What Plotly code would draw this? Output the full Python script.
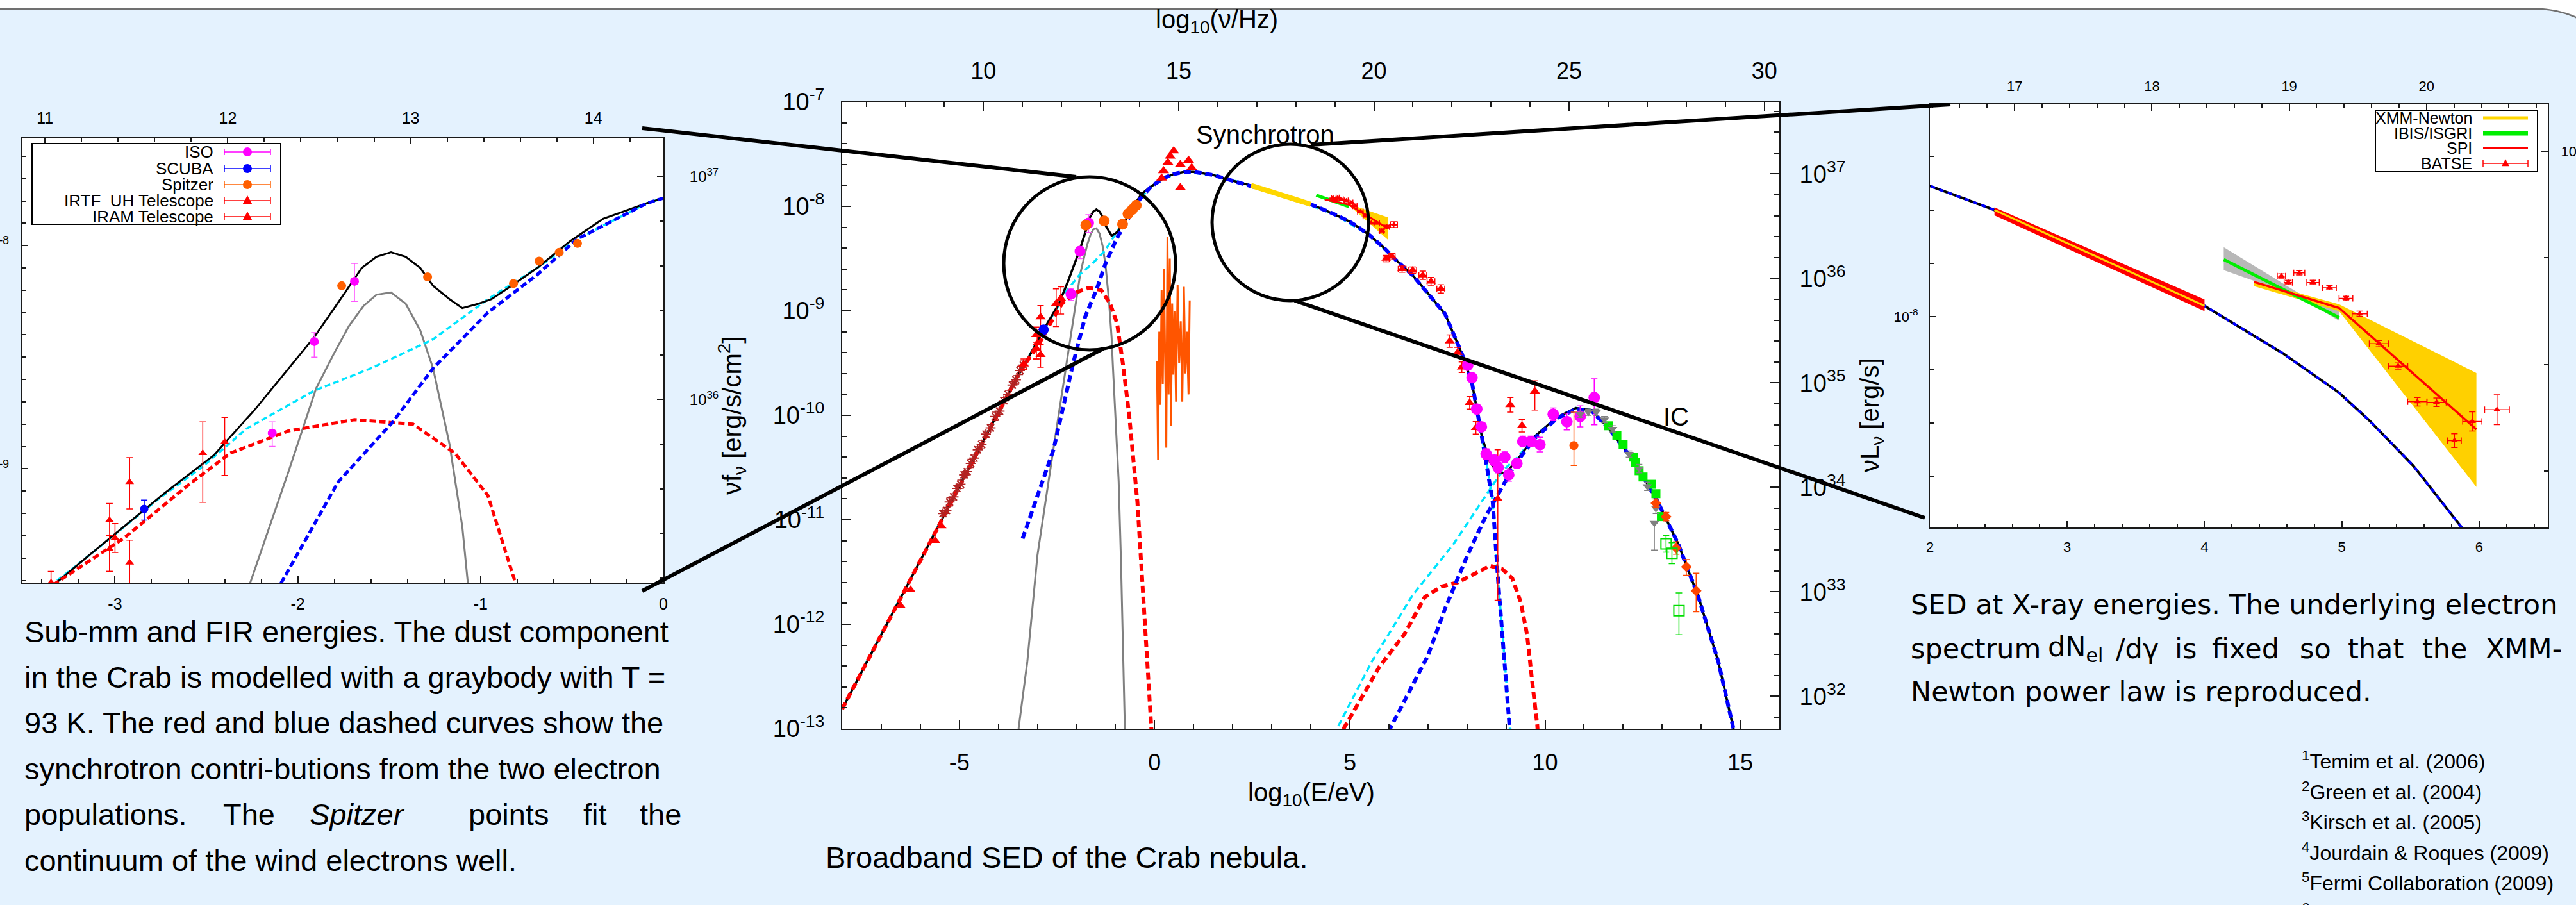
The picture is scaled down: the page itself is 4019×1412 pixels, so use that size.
import numpy as np
import plotly.graph_objects as go

W, H = 4019, 1412
def px(x): return x / W
def py(y): return 1 - y / H

E2NU = 14.383   # log10(nu/Hz) - log10(E/eV)
LUM = 44.69     # log10(nu L_nu) - log10(nu f_nu)

# ---------------- model curves: log10(E/eV) , log10(nu f_nu) ----------------
tot_E = [-8.0,-7.0,-6.0,-5.0,-4.0,-3.5,-3.32,-3.16,-2.73,-2.46,-2.23,-2.05,-1.91,-1.75,-1.65,-1.57,-1.49,-1.41,-1.33,-1.26,
         -1.17,-1.10,-1.01,-0.94,-0.83,-0.69,-0.51,-0.33,-0.09,0.23,0.50,0.75,1.00,1.50,2.00,2.47,3.00,3.50,4.00,4.57,
         4.98,5.20,5.52,5.87,6.20,6.61,7.00,7.44,7.87,8.13,8.38,8.59,8.80,9.00,9.30,9.74,10.30,10.79,11.20,11.62,
         12.30,12.89,13.41,13.93,14.44,14.82,15.20]
tot_F = [-12.81,-12.10,-11.38,-10.67,-9.97,-9.62,-9.51,-9.40,-9.11,-8.94,-8.73,-8.55,-8.41,-8.22,-8.10,-8.05,-8.03,-8.05,-8.10,-8.18,
         -8.24,-8.28,-8.26,-8.24,-8.18,-8.10,-7.98,-7.88,-7.81,-7.73,-7.69,-7.67,-7.67,-7.70,-7.755,-7.80,-7.865,-7.925,-7.98,-8.069,
         -8.143,-8.195,-8.28,-8.395,-8.52,-8.66,-8.83,-9.03,-9.41,-9.69,-10.20,-10.45,-10.55,-10.55,-10.42,-10.20,-10.02,-9.93,-9.95,-10.12,
         -10.45,-10.83,-11.23,-11.74,-12.36,-12.99,-13.5]

synw_E = [-3.38,-2.59,-2.09,-1.78,-1.48,-1.26,-0.96,-0.69,-0.47,-0.09,0.23,0.50,0.75,1.00,1.50,2.00,2.47,3.00,3.50,4.00,
          4.57,4.98,5.20,5.52,5.87,6.20,6.61,7.00,7.44,7.87,8.13,8.38,8.50,8.66,8.80,8.97,9.11,9.20]
synw_F = [-11.18,-10.33,-9.51,-9.06,-8.79,-8.55,-8.30,-8.13,-7.97,-7.81,-7.73,-7.69,-7.67,-7.67,-7.70,-7.755,-7.80,-7.865,-7.925,-7.98,
          -8.069,-8.143,-8.195,-8.28,-8.395,-8.52,-8.66,-8.83,-9.03,-9.41,-9.69,-10.20,-10.45,-10.83,-11.59,-12.36,-13.0,-13.5]

synr_E = [-8.0,-7.0,-6.0,-5.0,-4.0,-3.5,-3.32,-2.95,-2.61,-2.37,-2.05,-1.69,-1.37,-1.14,-0.96,-0.81,-0.65,-0.44,-0.23,-0.08,0.0]
synr_F = [-12.81,-12.10,-11.38,-10.67,-9.97,-9.62,-9.51,-9.31,-9.08,-8.93,-8.83,-8.78,-8.80,-8.93,-9.12,-9.51,-10.0,-10.83,-12.1,-12.97,-13.5]

syns_E = [-8.0,-5.0,-3.5,-3.16,-2.77,-2.52,-2.28,-1.91,-1.60,-1.26,-0.96,-0.69,-0.47,-0.09,0.23,0.75,1.5,2.47,3.5,4.57,
          5.52,6.61,7.44,7.87,8.13,8.38,8.50,8.66,8.80,8.97,9.11,9.20]
syns_F = [-12.81,-10.67,-9.62,-9.40,-9.14,-8.99,-8.82,-8.65,-8.55,-8.42,-8.24,-8.10,-7.97,-7.81,-7.73,-7.67,-7.70,-7.80,-7.925,-8.069,
          -8.28,-8.66,-9.03,-9.41,-9.69,-10.20,-10.45,-10.83,-11.59,-12.36,-13.0,-13.5]

ics_E = [4.00,4.67,5.56,6.61,7.66,8.38,8.80,9.00,9.30,9.74,10.30,10.79,11.20,11.62,12.30,12.89,13.41,13.93,14.44,14.82,15.20]
ics_F = [-13.5,-13.0,-12.36,-11.72,-11.23,-10.83,-10.59,-10.50,-10.40,-10.20,-10.02,-9.93,-9.95,-10.12,-10.45,-10.83,-11.23,-11.74,-12.36,-12.99,-13.5]

icw_E = [5.40,6.03,7.00,7.44,8.00,8.49,9.23,9.74,10.30,10.79,11.20,11.62,12.30,12.89,13.41,13.93,14.44,14.82,15.20]
icw_F = [-13.5,-13.0,-12.3,-11.85,-11.35,-10.96,-10.47,-10.22,-10.03,-9.94,-9.96,-10.12,-10.45,-10.83,-11.23,-11.74,-12.36,-12.99,-13.5]

icr_E = [4.50,4.84,4.98,5.77,6.39,6.92,7.34,7.76,8.18,8.59,8.90,9.16,9.38,9.54,9.69,9.80,9.88]
icr_F = [-13.4,-13.0,-12.91,-12.40,-12.10,-11.74,-11.64,-11.60,-11.52,-11.44,-11.47,-11.56,-11.79,-12.10,-12.61,-12.96,-13.4]

dust_E = [-3.55,-3.48,-3.26,-3.00,-2.59,-2.26,-2.05,-1.90,-1.80,-1.72,-1.64,-1.57,-1.49,-1.41,-1.33,-1.26,-1.17,-1.10,-1.07,-1.00,
          -0.92,-0.86,-0.80,-0.76,-0.73]
dust_F = [-13.5,-12.99,-12.36,-11.34,-10.32,-9.51,-9.01,-8.64,-8.48,-8.36,-8.27,-8.22,-8.21,-8.26,-8.38,-8.55,-8.89,-9.26,-9.51,-10.0,
          -10.63,-11.4,-12.3,-13.0,-13.5]

# ---------------- data points ----------------
iso_E = [-2.14,-1.91,-1.69]; iso_F = [-8.84,-8.43,-8.16]; iso_up = [0.05,0.04,0.08]; iso_dn = [0.06,0.07,0.09]
scuba_E = [-2.84]; scuba_F = [-9.18]; scuba_up = [0.04]; scuba_dn = [0.05]
spitzer_E = [-1.76,-1.29,-0.82,-0.68,-0.57,-0.47]; spitzer_F = [-8.18,-8.14,-8.17,-8.07,-8.03,-7.99]
iram_E = [-3.35,-3.03,-3.03,-3.00]; iram_F = [-9.51,-9.23,-9.36,-9.31]
iram_up = [0.05,0.075,0.06,0.065]; iram_dn = [0.05,0.23,0.10,0.065]
irtf_E = [-2.92,-2.92,-2.52,-2.40]; irtf_F = [-9.06,-9.42,-8.93,-8.88]
irtf_up = [0.11,0.10,0.14,0.11]; irtf_dn = [0.12,0.12,0.22,0.15]

radio_E = [-5.42,-5.33,-5.25,-5.15,-5.06,-4.97,-4.88,-4.80,-4.71,-4.62,-4.53,-4.43,-4.32,-4.20,-4.08,-3.97,-3.86,-3.75,-3.64,-3.55,-3.45,-3.36]
radio_F = [-10.94,-10.91,-10.83,-10.78,-10.70,-10.66,-10.57,-10.54,-10.46,-10.41,-10.33,-10.28,-10.18,-10.12,-10.01,-9.96,-9.86,-9.80,-9.71,-9.66,-9.57,-9.52]
radio_err = [0.03,0.03,0.04,0.03,0.03,0.04,0.03,0.03,0.04,0.03,0.03,0.04,0.03,0.03,0.04,0.03,0.03,0.04,0.03,0.04,0.04,0.04]
rtri_E = [-6.51,-6.25,-5.62,-5.46]; rtri_F = [-11.82,-11.67,-11.20,-11.06]
opt_E = [0.18,0.23,0.34,0.40,0.49,0.66,0.66,0.87,0.95]; opt_F = [-7.73,-7.66,-7.58,-7.52,-7.47,-7.60,-7.82,-7.56,-7.63]
uv_E = [0.06,0.09,0.12,0.15,0.18,0.21,0.24,0.27,0.30,0.33,0.36,0.39,0.42,0.45,0.48,0.51,0.55,0.59,0.63,0.67,0.71,0.75,0.79,0.83,0.87,0.90]
uv_F = [-9.48,-10.43,-9.20,-9.90,-8.80,-9.70,-8.60,-9.40,-10.31,-8.29,-9.80,-8.50,-10.10,-8.93,-9.61,-9.00,-9.87,-8.75,-9.50,-9.10,-9.87,-8.77,-9.60,-9.20,-9.80,-8.90]

xmm_E = [2.47,4.00]; xmm_F = [-7.80,-7.98]; xmm_hi = [-7.795,-7.968]; xmm_lo = [-7.810,-7.990]
ibis_E = [4.14,4.98]; ibis_F = [-7.893,-8.002]
ibisb_E = [4.14,4.68,4.98]; ibisb_hi = [-7.870,-7.955,-7.990]; ibisb_lo = [-7.913,-7.962,-8.008]
spi_E = [4.36,4.98,5.98]; spi_F = [-7.935,-7.984,-8.212]; spi_hi = [-7.933,-7.977,-8.106]; spi_lo = [-7.943,-7.990,-8.320]
batse_E = [4.56,4.61,4.69,4.79,4.91,5.03,5.13,5.27,5.41,5.55,5.69,5.82,5.95,6.13]
batse_F = [-7.924,-7.936,-7.918,-7.936,-7.946,-7.966,-7.995,-8.051,-8.093,-8.160,-8.161,-8.233,-8.197,-8.175]
batse_xe = [0.03,0.03,0.04,0.045,0.05,0.05,0.055,0.07,0.07,0.07,0.07,0.05,0.07,0.09]
batse_ye = [0.004,0.004,0.004,0.004,0.004,0.004,0.005,0.006,0.006,0.008,0.008,0.013,0.018,0.028]

comptel_E = [5.93,6.08,6.34,6.61,6.87,7.08,7.33]; comptel_F = [-8.50,-8.48,-8.60,-8.61,-8.66,-8.72,-8.79]
comptel_ye = [0.03,0.03,0.03,0.03,0.04,0.04,0.04]; comptel_xe = [0.08,0.08,0.1,0.1,0.1,0.1,0.1]
egret_E = [7.56,7.76,7.87,8.07,8.23,8.79,9.11,9.41,9.74]
egret_F = [-9.29,-9.40,-9.54,-9.88,-10.12,-10.80,-9.90,-10.10,-9.77]
egret_up = [0.06,0.05,0.05,0.06,0.06,0.47,0.07,0.06,0.10]; egret_dn = [0.06,0.05,0.05,0.06,0.06,0.97,0.07,0.06,0.18]
fermi_E = [8.02,8.13,8.25,8.37,8.49,8.70,8.80,8.97,9.07,9.28,9.43,9.64,9.87,10.21,10.56,10.90,11.26]
fermi_F = [-9.52,-9.64,-9.94,-10.11,-10.37,-10.43,-10.50,-10.40,-10.57,-10.46,-10.25,-10.25,-10.28,-9.99,-10.06,-10.01,-9.83]
fermi_up = [0.03,0.03,0.04,0.04,0.05,0.05,0.05,0.05,0.06,0.05,0.05,0.05,0.07,0.06,0.08,0.10,0.18]
fermi_dn = [0.03,0.03,0.04,0.04,0.05,0.05,0.05,0.05,0.06,0.05,0.05,0.05,0.07,0.06,0.08,0.10,0.26]
magic_E = [10.74]; magic_F = [-10.29]; magic_up = [0.32]; magic_dn = [0.19]
grtri_E = [10.90,11.11,11.31,11.52,11.73,12.15,12.41,12.62,12.84,12.80]
grtri_F = [-9.99,-9.97,-9.97,-10.04,-10.13,-10.37,-10.51,-10.68,-10.89,-11.03]
grtri_up = [0.03,0.03,0.03,0.03,0.03,0.03,0.04,0.04,0.05,0.0]; grtri_dn = [0.03,0.03,0.03,0.03,0.03,0.03,0.04,0.04,0.05,0.26]
hess_E = [11.62,11.84,12.00,12.26,12.31,12.41,12.51,12.72,12.84,12.98]
hess_F = [-10.10,-10.19,-10.28,-10.40,-10.45,-10.53,-10.59,-10.66,-10.75,-10.97]
dia_E = [12.84,13.10,13.36,13.62,13.87]; dia_F = [-10.84,-10.97,-11.27,-11.45,-11.68]
dia_up = [0.04,0.04,0.06,0.07,0.17]; dia_dn = [0.04,0.04,0.06,0.08,0.20]
osq_E = [13.10,13.25,13.43]; osq_F = [-11.23,-11.32,-11.87]; osq_up = [0.08,0.10,0.17]; osq_dn = [0.08,0.10,0.23]

# ---------------- tick labels ----------------
main_x_ticks = [-5, 0, 5, 10, 15]; main_x_text = ['-5', '0', '5', '10', '15']
main_top_ticks = [10, 15, 20, 25, 30]; main_top_text = ['10', '15', '20', '25', '30']
main_y_exp = [-13, -12, -11, -10, -9, -8, -7]
main_y2_exp = [32, 33, 34, 35, 36, 37]
left_x_ticks = [-3, -2, -1, 0]; left_x_text = ['-3', '-2', '-1', '0']
left_top_ticks = [11, 12, 13, 14]
left_y_exp = [-9, -8]; left_y2_exp = [36, 37]
right_x_ticks = [2, 3, 4, 5, 6]
right_top_ticks = [17, 18, 19, 20]
right_y_exp = [-8]; right_y2_exp = [37]

# ---------------- figure ----------------
fig = go.Figure()
def lin(a): return 10.0 ** np.asarray(a, dtype=float)

MAIN = ('x', 'y'); LEFT = ('x3', 'y3'); RIGHT = ('x5', 'y5')

def curve(E, F, color, specs):
    for (xa, ya), width, dash in specs:
        fig.add_trace(go.Scatter(x=E, y=lin(F), mode='lines', xaxis=xa, yaxis=ya,
                                 line=dict(color=color, width=width, dash=dash),
                                 hoverinfo='skip', showlegend=False))

def band(E, hi, lo, color, axes):
    for xa, ya in axes:
        fig.add_trace(go.Scatter(x=list(E) + list(E)[::-1], y=list(lin(hi)) + list(lin(lo)[::-1]),
                                 mode='lines', fill='toself', fillcolor=color, line=dict(width=0, color=color),
                                 xaxis=xa, yaxis=ya, hoverinfo='skip', showlegend=False))

def points(E, F, color, symbol, sizes, up=None, dn=None, xerr=None, ecolor=None, lw=0):
    F = np.asarray(F, float)
    for (xa, ya), size in sizes:
        kw = {}
        if up is not None:
            kw['error_y'] = dict(type='data', symmetric=False, array=lin(F + np.asarray(up)) - lin(F),
                                 arrayminus=lin(F) - lin(F - np.asarray(dn)), color=ecolor or color,
                                 thickness=1.5, width=5)
        if xerr is not None:
            kw['error_x'] = dict(type='data', array=xerr, color=ecolor or color, thickness=1.5, width=5)
        fig.add_trace(go.Scatter(x=E, y=lin(F), mode='markers', xaxis=xa, yaxis=ya,
                                 marker=dict(color=color, size=size, symbol=symbol,
                                             line=dict(width=lw, color=color)),
                                 hoverinfo='skip', showlegend=False, **kw))

# model curves
curve(dust_E, dust_F, '#808080', [(MAIN, 3, 'solid'), (LEFT, 3, 'solid')])
curve(syns_E, syns_F, '#00E5FF', [(MAIN, 3.5, '10px,6px'), (LEFT, 3.5, '9px,5px')])
curve(ics_E, ics_F, '#00E5FF', [(MAIN, 3.5, '10px,6px')])
curve(tot_E, tot_F, '#000000', [(MAIN, 3.5, 'solid'), (LEFT, 3, 'solid'), (RIGHT, 4, 'solid')])
curve(synr_E, synr_F, '#FF0000', [(MAIN, 6, '11px,6px'), (LEFT, 5, '10px,5px')])
curve(icr_E, icr_F, '#FF0000', [(MAIN, 6, '11px,6px')])
curve(synw_E, synw_F, '#0000FF', [(MAIN, 6, '11px,6px'), (LEFT, 5, '10px,5px'), (RIGHT, 4, '7px,7px')])
curve(icw_E, icw_F, '#0000FF', [(MAIN, 6, '11px,6px')])

# X-ray instruments (main + right inset)
band(xmm_E, xmm_hi, xmm_lo, '#FF0000', [RIGHT])
curve(xmm_E, xmm_F, '#FFD700', [(MAIN, 8, 'solid'), (RIGHT, 3, 'solid')])
band(ibisb_E, ibisb_hi, ibisb_lo, 'rgba(160,160,160,0.75)', [RIGHT])
band(spi_E, spi_hi, spi_lo, '#FFD000', [MAIN, RIGHT])
curve(ibis_E, ibis_F, '#00EE00', [(MAIN, 5, 'solid'), (RIGHT, 5, 'solid')])
curve(spi_E, spi_F, '#FF0000', [(MAIN, 3, 'solid'), (RIGHT, 3.5, 'solid')])
points(batse_E, batse_F, '#FF0000', 'triangle-up', [(MAIN, 9), (RIGHT, 10)],
       up=batse_ye, dn=batse_ye, xerr=batse_xe)

# low-energy data
curve(uv_E, uv_F, '#FF5500', [(MAIN, 3, 'solid')])
points(radio_E, radio_F, '#B22222', 'asterisk-open', [(MAIN, 13)], up=radio_err, dn=radio_err, lw=2)
points(rtri_E, rtri_F, '#FF0000', 'triangle-up', [(MAIN, 14)])
points(iram_E, iram_F, '#FF0000', 'triangle-up', [(MAIN, 14), (LEFT, 12)], up=iram_up, dn=iram_dn)
points(irtf_E, irtf_F, '#FF0000', 'triangle-up', [(MAIN, 14), (LEFT, 12)], up=irtf_up, dn=irtf_dn)
points(scuba_E, scuba_F, '#0000FF', 'circle', [(MAIN, 16), (LEFT, 13)], up=scuba_up, dn=scuba_dn)
points(iso_E, iso_F, '#FF00FF', 'circle', [(MAIN, 17), (LEFT, 14)], up=iso_up, dn=iso_dn, ecolor='#FF55FF')
points(spitzer_E, spitzer_F, '#FF6000', 'circle', [(MAIN, 17), (LEFT, 14)])
points(opt_E, opt_F, '#FF0000', 'triangle-up', [(MAIN, 15)])

# high-energy data
points(comptel_E, comptel_F, '#FF0000', 'triangle-up', [(MAIN, 13)], up=comptel_ye, dn=comptel_ye, xerr=comptel_xe)
points(egret_E, egret_F, '#FF0000', 'triangle-up', [(MAIN, 14)], up=egret_up, dn=egret_dn)
points(fermi_E, fermi_F, '#FF00FF', 'circle', [(MAIN, 18)], up=fermi_up, dn=fermi_dn)
points(magic_E, magic_F, '#FF5000', 'circle', [(MAIN, 14)], up=magic_up, dn=magic_dn)
points(hess_E, hess_F, '#00EE00', 'square', [(MAIN, 14)])
points(grtri_E, grtri_F, '#808080', 'triangle-down', [(MAIN, 13)], up=grtri_up, dn=grtri_dn)
points(dia_E, dia_F, '#FF4500', 'diamond', [(MAIN, 13)], up=dia_up, dn=dia_dn)
points(osq_E, osq_F, '#00DD00', 'square-open', [(MAIN, 16)], up=osq_up, dn=osq_dn, lw=2)

# invisible carriers for the secondary (top / right) axes
for xa, ya in [('x2', 'y2'), ('x4', 'y4'), ('x6', 'y6')]:
    fig.add_trace(go.Scatter(x=np.array(tot_E) + E2NU, y=lin(np.array(tot_F) + LUM), mode='lines',
                             xaxis=xa, yaxis=ya, line=dict(width=0), opacity=0,
                             hoverinfo='skip', showlegend=False))

# ---------------- axes ----------------
INK = '#1a1a1a'
def ax(**kw):
    base = dict(showgrid=False, zeroline=False, showline=True, linecolor=INK, linewidth=2,
                ticks='inside', tickcolor=INK, tickwidth=2, mirror=False, fixedrange=True, automargin=False,
                tickfont=dict(size=36, color='black'))
    base.update(kw)
    return base

def minor(vals, ln):
    return dict(ticks='inside', tickvals=list(vals), ticklen=ln, tickcolor=INK, tickwidth=1.5)

def pw(exps):
    return ['10<sup>%d</sup>' % e for e in exps]

main_dom_x = [px(1314), px(2776)]; main_dom_y = [py(1137), py(159)]
left_dom_x = [px(34), px(1035)]; left_dom_y = [py(909), py(215)]
right_dom_x = [px(3011), px(3975)]; right_dom_y = [py(823), py(163)]

fig.update_layout(
    xaxis=ax(domain=main_dom_x, anchor='y', range=[-8, 16], tickvals=main_x_ticks, ticktext=main_x_text,
             ticklen=14, ticklabelstandoff=20, minor=minor(range(-8, 17), 8)),
    xaxis2=ax(overlaying='x', side='top', anchor='y', range=[-8 + E2NU, 16 + E2NU], tickvals=main_top_ticks,
              ticktext=main_top_text, ticklen=14, ticklabelstandoff=20, minor=minor(range(7, 31), 8)),
    yaxis=ax(domain=main_dom_y, anchor='x', type='log', range=[-13, -7], tickvals=list(lin(main_y_exp)),
             ticktext=pw(main_y_exp), ticklen=14, ticklabelstandoff=18, tickfont=dict(size=38),
             minor=minor(lin(np.arange(-13, -6.99, 0.2)), 8)),
    yaxis2=ax(overlaying='y', side='right', anchor='x', type='log', range=[-13 + LUM, -7 + LUM],
              tickvals=list(lin(main_y2_exp)), ticktext=pw(main_y2_exp), ticklen=14, ticklabelstandoff=22,
              tickfont=dict(size=38), minor=minor(lin(np.arange(31.8, 37.7, 0.2)), 8)),

    xaxis3=ax(domain=left_dom_x, anchor='y3', range=[-3.51, 0.0], tickvals=left_x_ticks, ticktext=left_x_text,
              ticklen=10, tickfont=dict(size=25), ticklabelstandoff=10, minor=minor(np.arange(-3.4, 0.01, 0.2), 6)),
    xaxis4=ax(overlaying='x3', side='top', anchor='y3', range=[-3.51 + E2NU, E2NU], tickvals=left_top_ticks,
              ticktext=[str(v) for v in left_top_ticks], ticklen=10, tickfont=dict(size=25), ticklabelstandoff=10,
              minor=minor(np.arange(11.0, 14.39, 0.2), 6)),
    yaxis3=ax(domain=left_dom_y, anchor='x3', type='log', range=[-9.51, -7.517], tickvals=list(lin(left_y_exp)),
              ticktext=pw(left_y_exp), ticklen=10, tickfont=dict(size=25), ticklabelstandoff=13,
              minor=minor(lin(np.arange(-9.5, -7.51, 0.1)), 6)),
    yaxis4=ax(overlaying='y3', side='right', anchor='x3', type='log', range=[-9.51 + LUM, -7.517 + LUM],
              tickvals=list(lin(left_y2_exp)), ticktext=pw(left_y2_exp), ticklen=10, tickfont=dict(size=24),
              ticklabelstandoff=34, minor=minor(lin(np.arange(35.2, 37.2, 0.2)), 6)),

    xaxis5=ax(domain=right_dom_x, anchor='y5', range=[2, 6.5], tickvals=right_x_ticks,
              ticktext=[str(v) for v in right_x_ticks], ticklen=10, tickfont=dict(size=22), ticklabelstandoff=10,
              minor=minor(np.arange(2.2, 6.5, 0.2), 6)),
    xaxis6=ax(overlaying='x5', side='top', anchor='y5', range=[2 + E2NU, 6.5 + E2NU], tickvals=right_top_ticks,
              ticktext=[str(v) for v in right_top_ticks], ticklen=10, tickfont=dict(size=22), ticklabelstandoff=10,
              minor=minor(np.arange(16.4, 20.9, 0.2), 6)),
    yaxis5=ax(domain=right_dom_y, anchor='x5', type='log', range=[-8.396, -7.602], tickvals=list(lin(right_y_exp)),
              ticktext=pw(right_y_exp), ticklen=10, tickfont=dict(size=22), ticklabelstandoff=12,
              minor=minor(lin(np.arange(-8.3, -7.65, 0.1)), 6)),
    yaxis6=ax(overlaying='y5', side='right', anchor='x5', type='log', range=[-8.396 + LUM, -7.602 + LUM],
              tickvals=list(lin(right_y2_exp)), ticktext=pw(right_y2_exp), ticklen=10, tickfont=dict(size=22),
              ticklabelstandoff=14, minor=minor(lin(np.arange(36.4, 37.09, 0.2)), 6)),
)

# ---------------- shapes ----------------
BG = '#E4F2FE'
shapes = []
R = 154.0; cx0 = 3957.0; cy0 = 14.0 + R
ts = np.linspace(0, 0.5, 16)
arc = [(cx0 + R * np.sin(t), cy0 - R * np.cos(t)) for t in ts]
border = 'M 0,%f L ' % py(14) + ' L '.join('%f,%f' % (px(a), py(b)) for a, b in arc)
white = 'M 0,1 L %f,1 L ' % px(arc[-1][0]) + ' L '.join('%f,%f' % (px(a), py(b)) for a, b in arc[::-1]) + \
        ' L 0,%f Z' % py(14)
shapes.append(dict(type='path', path=white, xref='paper', yref='paper', fillcolor='white',
                   line=dict(width=0), layer='below'))
shapes.append(dict(type='path', path=border, xref='paper', yref='paper', fillcolor='rgba(0,0,0,0)',
                   line=dict(width=2.5, color='#707070'), layer='below'))

def pline(x0, y0, x1, y1, w, color='black'):
    shapes.append(dict(type='line', xref='paper', yref='paper', x0=px(x0), y0=py(y0), x1=px(x1), y1=py(y1),
                       line=dict(color=color, width=w), layer='above'))

def pcircle(cx, cy, rx, ry, w=0, color='black', fill='rgba(0,0,0,0)'):
    shapes.append(dict(type='circle', xref='paper', yref='paper', x0=px(cx - rx), x1=px(cx + rx),
                       y0=py(cy + ry), y1=py(cy - ry), line=dict(color=color, width=w), fillcolor=fill,
                       layer='above'))

def ptri(cx, cy, s, color):
    pts_ = [(cx, cy - 0.62 * s), (cx - 0.55 * s, cy + 0.38 * s), (cx + 0.55 * s, cy + 0.38 * s)]
    path = 'M ' + ' L '.join('%f,%f' % (px(a), py(b)) for a, b in pts_) + ' Z'
    shapes.append(dict(type='path', path=path, xref='paper', yref='paper', fillcolor=color,
                       line=dict(width=0), layer='above'))

def prect(x0, y0, x1, y1):
    shapes.append(dict(type='rect', xref='paper', yref='paper', x0=px(x0), x1=px(x1), y0=py(y1), y1=py(y0),
                       line=dict(color='black', width=2), fillcolor='white', layer='above'))

# zoom circles and connecting lines
pcircle(1700, 411, 134, 135, w=5)
pcircle(2013, 347, 122, 122, w=5)
pline(1002, 200, 1679, 276, 6)
pline(1002, 922, 1721, 544, 6)
pline(2045, 226, 3043, 163, 6)
pline(2020, 469, 3003, 808, 6)

# left legend
prect(50, 224, 438, 350)
leg_rows = [(237, '#FF00FF', 'c'), (263, '#0000FF', 'c'), (288, '#FF6000', 'c'), (313, '#FF0000', 't'), (338, '#FF0000', 't')]
for yy, col, kind in leg_rows:
    pline(350, yy, 422, yy, 1.5, col)
    pline(350, yy - 5, 350, yy + 5, 1.5, col)
    pline(422, yy - 5, 422, yy + 5, 1.5, col)
    if kind == 'c':
        pcircle(386, yy, 7, 7, w=0, color=col, fill=col)
    else:
        ptri(386, yy, 13, col)

# right legend
prect(3706, 172, 3959, 268)
pline(3874, 184, 3944, 184, 5, '#FFD700')
pline(3874, 208, 3944, 208, 7, '#00EE00')
pline(3874, 231, 3944, 231, 4, '#FF0000')
pline(3874, 255, 3944, 255, 1.5, '#FF0000')
pline(3874, 250, 3874, 260, 1.5, '#FF0000')
pline(3944, 250, 3944, 260, 1.5, '#FF0000')
ptri(3909, 255, 11, '#FF0000')

# ---------------- texts ----------------
SANS = 'Liberation Sans, Arial, Helvetica, sans-serif'
DEJA = 'DejaVu Sans, Verdana, sans-serif'
ann = []
def text(s, x, y, size, family=SANS, xanchor='left', angle=0):
    ann.append(dict(text=s, x=px(x), y=py(y), xref='paper', yref='paper', showarrow=False, xanchor=xanchor,
                    yanchor='middle', textangle=angle, font=dict(size=size, family=family, color='black')))

# legend labels
for (yy, _, _), lab in zip(leg_rows, ['ISO', 'SCUBA', 'Spitzer', 'IRTF\u00a0 UH Telescope', 'IRAM Telescope']):
    text(lab, 335, yy, 26, xanchor='right')
for yy, lab in zip([184, 208, 231, 255], ['XMM-Newton', 'IBIS/ISGRI', 'SPI', 'BATSE']):
    text(lab, 3859, yy, 25, xanchor='right')

# axis titles and plot labels
text('log<sub>10</sub>(E/eV)', 2046, 1239, 40, xanchor='center')
text('log<sub>10</sub>(ν/Hz)', 1898, 33, 40, xanchor='center')
text('νf<sub>ν</sub> [erg/s/cm<sup>2</sup>]', 1142, 649, 40, xanchor='center', angle=-90)
text('νL<sub>ν</sub> [erg/s]', 2920, 648, 40, xanchor='center', angle=-90)
text('Synchrotron', 1974, 210, 40, xanchor='center')
text('IC', 2615, 650, 40, xanchor='center')

# captions
left_lines = ['Sub-mm and FIR energies. The dust component',
              'in the Crab is modelled with a graybody with T =',
              '93 K. The red and blue dashed curves show the',
              'synchrotron contri-butions from the two electron']
for i, s in enumerate(left_lines):
    text(s, 36, 985 + 71.4 * i, 47)
for w_, xx in zip(['populations.', 'The', '<i>Spitzer</i>', 'points', 'fit', 'the'], [36, 346, 481, 729, 908, 996]):
    text(w_, xx, 985 + 71.4 * 4, 47)
text('continuum of the wind electrons well.', 36, 985 + 71.4 * 5, 47)

text('Broadband SED of the Crab nebula.', 1286, 1337, 47)

text('SED at X-ray energies. The underlying electron', 2979, 943, 43, family=DEJA)
for w_, xx in zip(['spectrum', 'dN<sub>el</sub>', '/dγ', 'is', 'fixed', 'so', 'that', 'the', 'XMM-'],
                  [2979, 3193, 3299, 3391, 3449, 3586, 3661, 3777, 3876]):
    text(w_, xx, 1012, 43, family=DEJA)
text('Newton power law is reproduced.', 2979, 1079, 43, family=DEJA)

refs = ['<sup>1</sup>Temim et al. (2006)', '<sup>2</sup>Green et al. (2004)', '<sup>3</sup>Kirsch et al. (2005)',
        '<sup>4</sup>Jourdain &amp; Roques (2009)', '<sup>5</sup>Fermi Collaboration (2009)',
        '<sup>6</sup>Blumenthal &amp; Gould (1970)']
for i, s in enumerate(refs):
    text(s, 3589, 1186 + 47.5 * i, 32)

fig.update_layout(width=W, height=H, margin=dict(l=0, r=0, t=0, b=0, pad=0, autoexpand=False), paper_bgcolor=BG,
                  plot_bgcolor='white', showlegend=False, hovermode=False, shapes=shapes, annotations=ann,
                  font=dict(family=SANS, color='black'))

fig.write_html('out.html', config={'displayModeBar': False},
               post_script="document.body.style.margin='0px';document.body.style.overflow='hidden';")
